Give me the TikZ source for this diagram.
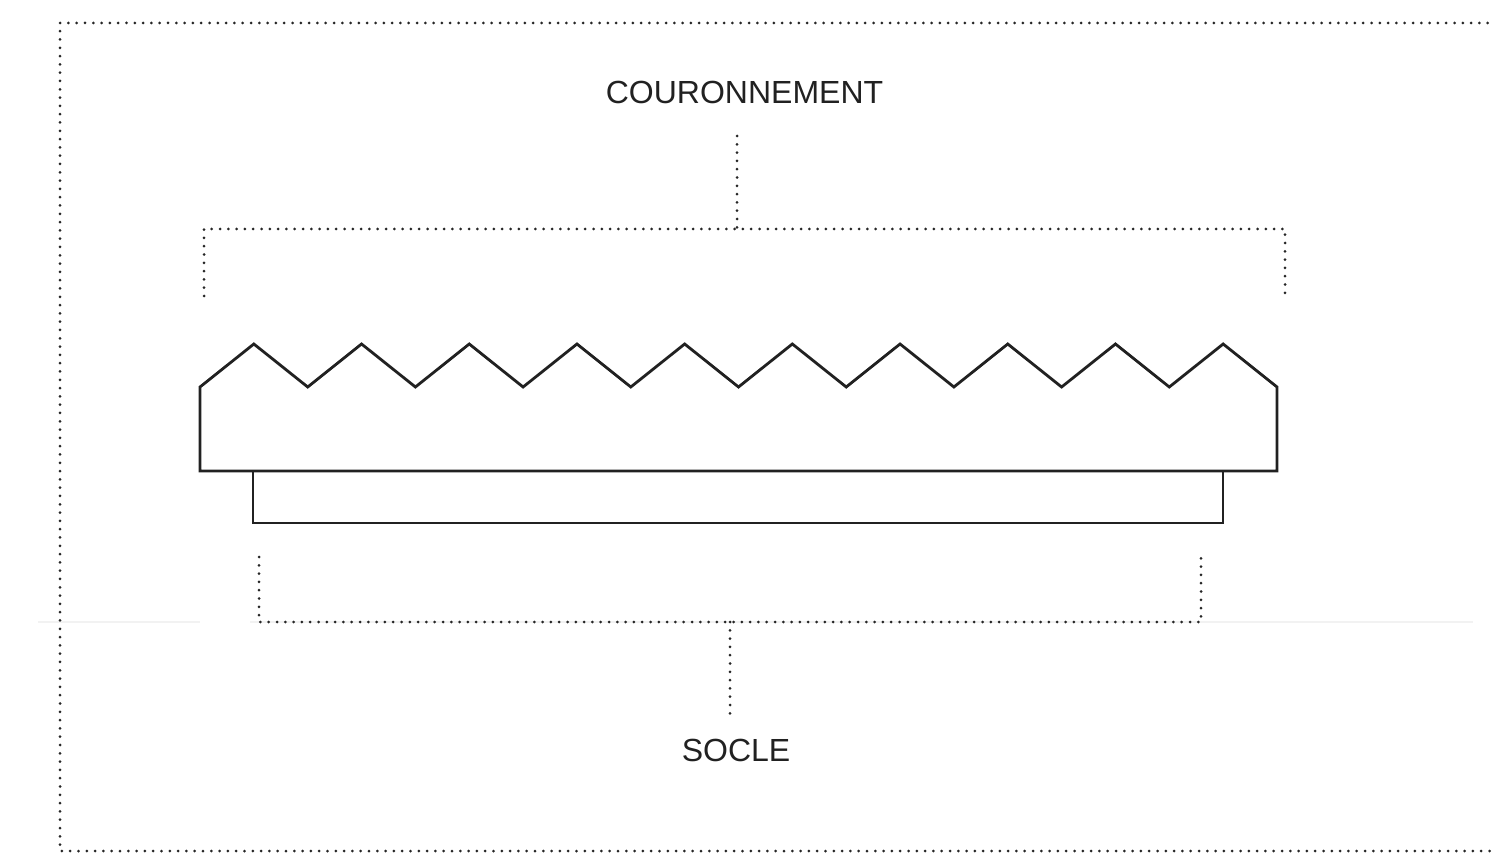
\documentclass[tikz,border=0pt]{standalone}
\usepackage{fontspec}
\setmainfont{Liberation Sans}
\begin{document}
\begin{tikzpicture}[x=0.5pt,y=-0.5pt,
  solidline/.style={line width=1.4pt,draw=black!87,line join=miter},
  dotline/.style={line width=1.5pt,draw=black!85,line cap=round,dash pattern=on 0pt off 4.15pt},
  faint/.style={line width=0.8pt,draw=black!5},
  lbl/.style={font=\fontsize{16}{19}\selectfont,text=black!87,inner sep=0pt}]
\useasboundingbox (0,0) rectangle (1493,855);
% faint horizontal line
\draw[faint] (38,622) -- (200,622);
\draw[faint] (250,622) -- (1473,622);
% outer dotted frame (right side outside the picture)
\coordinate (ftr) at (1496,23);
\coordinate (ftl) at (60,23);
\coordinate (fbl) at (60,851);
\coordinate (fbr) at (1496,851);
\draw[dotline] (ftr) -- (ftl) -- (fbl) -- (fbr);
% crown (zigzag block)
\draw[solidline] (200,471) -- (200,387)
  \foreach \i in {1,...,20} { -- ({200+53.85*\i},{ifthenelse(mod(\i,2)==1,344,387)}) }
  -- (1277,471) -- cycle;
% base
\draw[solidline] (253,471) -- (253,523) -- (1223,523) -- (1223,471);
% labels
\node[lbl] (cour) at (744.5,92) {COURONNEMENT};
\node[lbl] (socle) at (736,750) {SOCLE};
% top bracket
\coordinate (tc) at (737,136);
\coordinate (tm) at (737,229);
\coordinate (tl) at (204,229);
\coordinate (tr) at (1285,229);
\coordinate (tld) at (204,296);
\coordinate (trd) at (1285,296);
\draw[dotline] (tc) -- (tm);
\draw[dotline] (tld) -- (tl) -- (tr) -- (trd);
% bottom bracket
\coordinate (bc) at (730,716);
\coordinate (bm) at (730,622);
\coordinate (bl) at (259,622);
\coordinate (br) at (1201,622);
\coordinate (blu) at (259,557);
\coordinate (bru) at (1201,557);
\draw[dotline] (bm) -- (bc);
\draw[dotline] (blu) -- (bl) -- (br) -- (bru);
\end{tikzpicture}
\end{document}
